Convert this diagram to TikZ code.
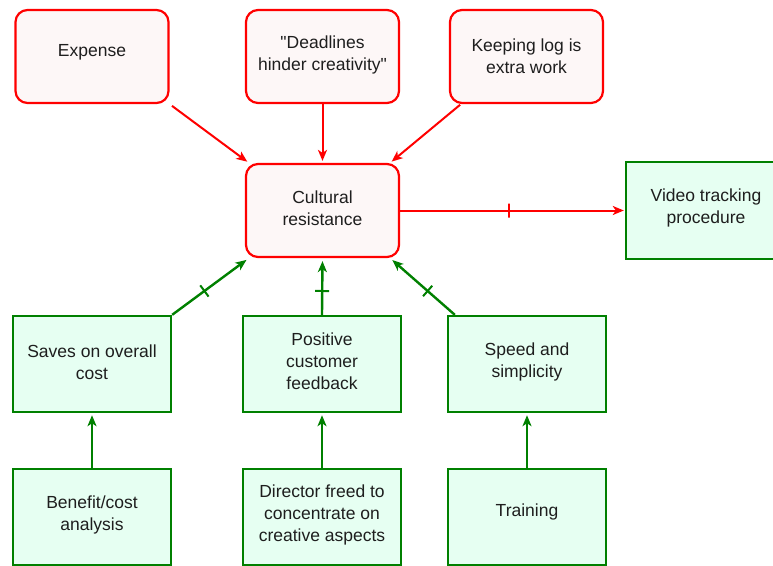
\documentclass[tikz,border=0pt]{standalone}
\usepackage{fontspec}
\setmainfont{Liberation Sans}[Ligatures=TeXOff]
\usetikzlibrary{arrows.meta}
\definecolor{rline}{RGB}{255,0,0}
\definecolor{rfill}{RGB}{253,247,247}
\definecolor{gline}{RGB}{0,128,0}
\definecolor{gfill}{RGB}{230,255,242}
\definecolor{txtc}{RGB}{30,30,30}
\begin{document}
\begin{tikzpicture}[x=1pt,y=-1pt,
 redbox/.style={draw=rline, fill=rfill, line width=2.2pt, rounded corners=12pt, minimum width=153pt, minimum height=93pt, inner sep=0pt},
 greenbox/.style={draw=gline, fill=gfill, line width=2.4pt, minimum width=158pt, minimum height=96pt, inner sep=0pt},
 txt/.style={text=txtc, align=center, font=\fontsize{17.5}{22}\selectfont, inner sep=0pt},
 rarr/.style={draw=rline, line width=2pt, -{Stealth[length=11pt,width=9pt,inset=3pt]}},
 garr/.style={draw=gline, line width=2.4pt, -{Stealth[length=11pt,width=9pt,inset=3pt]}},
 rtick/.style={draw=rline, line width=2pt, inner sep=0pt, minimum width=0pt, minimum height=14pt, sloped},
 gtick/.style={draw=gline, line width=2pt, inner sep=0pt, minimum width=0pt, minimum height=14pt, sloped}
]
\useasboundingbox[fill=white] (0,0) rectangle (773,565);

% red boxes
\node[redbox] (exp) at (92,56.5) {};
\node[redbox] (dead) at (322.5,56.5) {};
\node[redbox] (keep) at (526.5,56.5) {};
\node[redbox] (cult) at (322.5,210.5) {};
% green boxes
\node[greenbox, minimum height=97pt] (video) at (705,210.5) {};
\node[greenbox] (saves) at (92,364) {};
\node[greenbox] (pos) at (322,364) {};
\node[greenbox] (speed) at (527,364) {};
\node[greenbox] (ben) at (92,517) {};
\node[greenbox] (dir) at (322,517) {};
\node[greenbox] (train) at (527,517) {};

% texts
\node[txt] (expT) at (92,52) {Expense};
\node[txt] (deadT) at (322.5,55) {"Deadlines\\hinder creativity"};
\node[txt] (keepT) at (526.5,56) {Keeping log is\\extra work};
\node[txt] (cultT) at (322.5,208) {Cultural\\resistance};
\node[txt] (videoT) at (706,208) {Video tracking\\procedure};
\node[txt] (savesT) at (92,362) {Saves on overall\\cost};
\node[txt] (posT) at (322,361) {Positive\\customer\\feedback};
\node[txt] (speedT) at (527,362) {Speed and\\simplicity};
\node[txt] (benT) at (92,515) {Benefit/cost\\analysis};
\node[txt] (dirT) at (322,515) {Director freed to\\concentrate on\\creative aspects};
\node[txt] (trainT) at (527,512) {Training};

% red connectors
\draw[rarr, shorten <=3pt, shorten >=2pt] (exp.south east) -- ([xshift=4pt]cult.north west);
\draw[rarr, shorten >=2pt] (dead.south) -- (cult.north);
\draw[rarr, shorten <=1pt, shorten >=2pt] ([xshift=12pt]keep.south west) -- ([xshift=-10pt]cult.north east);
\draw[rarr, shorten >=1pt] (cult.east) -- node[rtick, pos=0.485] (t1) {} (video.west);

% green connectors
\draw[garr, shorten >=3pt] (saves.north east) -- node[gtick, pos=0.42] (t2) {} ([xshift=4pt]cult.south west);
\draw[garr, shorten >=3pt] (pos.north) -- node[gtick, pos=0.42] (t3) {} (cult.south);
\draw[garr, shorten >=3pt] ([xshift=8pt]speed.north west) -- node[gtick, pos=0.42] (t4) {} ([xshift=-10pt]cult.south east);
\draw[garr, shorten >=2pt] (ben.north) -- (saves.south);
\draw[garr, shorten >=2pt] (dir.north) -- (pos.south);
\draw[garr, shorten >=2pt] (train.north) -- (speed.south);
\end{tikzpicture}
\end{document}
